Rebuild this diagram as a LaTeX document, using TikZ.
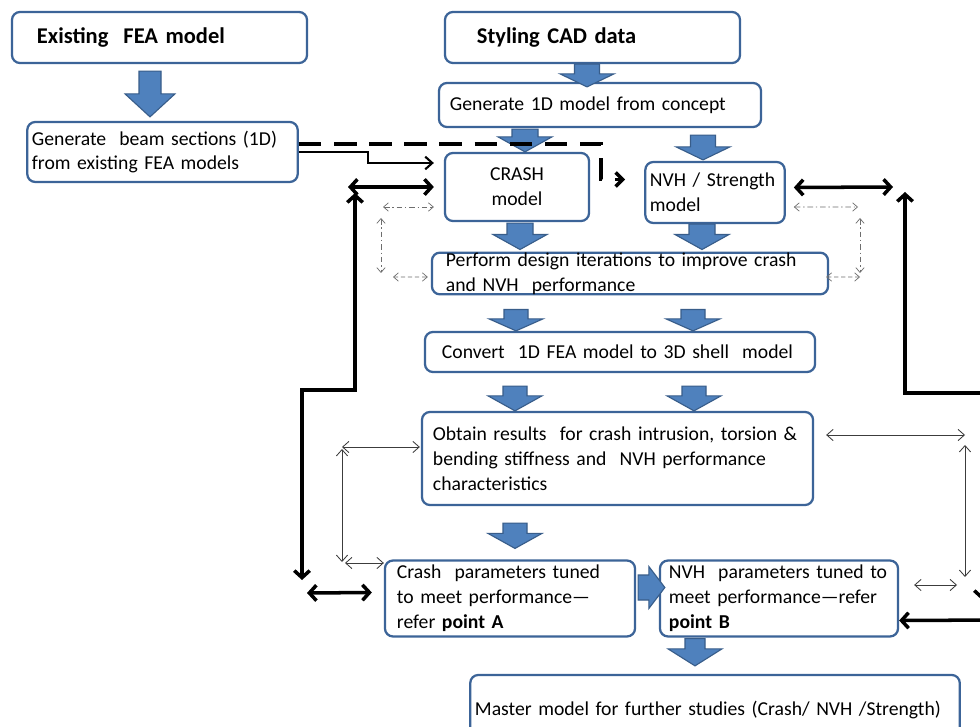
\documentclass[tikz,border=0pt]{standalone}
\usepackage{fontspec}
\setmainfont{Carlito}
\usepackage{tikz}
\usetikzlibrary{arrows.meta, calc, positioning}
\definecolor{BoxLine}{RGB}{60,100,152}
\definecolor{BlkFill}{RGB}{79,129,189}
\definecolor{BlkLine}{RGB}{56,93,138}
\definecolor{LinkGray}{RGB}{60,60,60}
\definecolor{DotGray}{RGB}{110,110,110}

% fat block arrow pointing down: x, from, to, top offset, tip offset, head length, half shaft, half head
\newcommand{\blkdown}[8]{%
	\path (#2.south -| #1,0) ++(0,#4) coordinate (bt)
	      (#3.north -| #1,0) ++(0,#5) coordinate (bb);
	\draw[blkarr] ($(bt)+(-#7,0)$) -- ($(bt)+(#7,0)$) -- ($(bb)+(#7,-#6)$)
		-- ($(bb)+(#8,-#6)$) -- (bb) -- ($(bb)+(-#8,-#6)$) -- ($(bb)+(-#7,-#6)$) -- cycle;}
% fat block arrow pointing right: y, from, to, left offset, tip offset, head length, half shaft, half head
\newcommand{\blkright}[8]{%
	\path (#2.east |- 0,#1) ++(#4,0) coordinate (bt)
	      (#3.west |- 0,#1) ++(#5,0) coordinate (bb);
	\draw[blkarr] ($(bt)+(0,-#7)$) -- ($(bb)+(-#6,-#7)$) -- ($(bb)+(-#6,-#8)$)
		-- (bb) -- ($(bb)+(-#6,#8)$) -- ($(bb)+(-#6,#7)$) -- ($(bt)+(0,#7)$) -- cycle;}

\begin{document}
\begin{tikzpicture}[x=0.025cm, y=-0.025cm, font=\fontsize{14}{17.7}\selectfont,
	box/.style={draw=BoxLine, line width=1.6pt, rounded corners=0.2cm, fill=white, align=left},
	title/.style={box, font=\fontsize{16}{19}\selectfont\bfseries},
	blkarr/.style={fill=BlkFill, draw=BlkLine, line width=0.8pt, line join=miter},
	heavy/.style={line width=2.5pt, {Straight Barb[length=5pt,width=11pt]}-{Straight Barb[length=5pt,width=11pt]}},
	feed/.style={line width=1.5pt, -{Straight Barb[length=5pt,width=9pt]}},
	dashfeed/.style={line width=2.6pt, dash pattern=on 16pt off 9pt, -{Straight Barb[length=5pt,width=10pt]}},
	thinlink/.style={line width=0.6pt, LinkGray, {Straight Barb[length=4.5pt,width=8pt]}-{Straight Barb[length=4.5pt,width=8pt]}},
	dotlink/.style={line width=0.5pt, DotGray, dash pattern=on 4pt off 2pt on 1pt off 2pt,
		{Straight Barb[length=3.5pt,width=6pt]}-{Straight Barb[length=3.5pt,width=6pt]}},
	dashlink/.style={dotlink, dash pattern=on 3pt off 2pt}]
	\path[use as bounding box, fill=white] (0,0) rectangle (980,727);

	% boxes
	\node[title, minimum width=7.375cm, minimum height=1.275cm, text width=6.125cm] (existing) at (159.5,37.5) {Existing~~FEA model};
	\node[title, minimum width=7.375cm, minimum height=1.275cm, text width=5.775cm] (styling) at (592.5,37.5) {Styling CAD data};
	\node[box, minimum width=8.05cm, minimum height=1.1cm, text width=7.5cm] (concept) at (600,105) {Generate 1D model from concept};
	\node[box, minimum width=6.725cm, minimum height=1.5cm, text width=6.525cm] (beam) at (162.5,152)
		{Generate~~beam sections (1D)\\from existing FEA models};
	\node[box, minimum width=3.6cm, minimum height=1.7cm, text width=3.2cm, align=center] (crash) at (517,187) {CRASH\\model};
	\node[box, minimum width=3.4cm, minimum height=1.525cm, text width=3.25cm] (nvh) at (715,192.5) {NVH / Strength\\model};
	\node[box, minimum width=9.9cm, minimum height=1.025cm, text width=9.2cm, inner ysep=0pt] (perf) at (630,273.5)
		{Perform design iterations to improve crash\\and NVH~~performance};
	\node[box, minimum width=9.75cm, minimum height=1cm, text width=8.9cm] (convert) at (620,352)
		{Convert~~1D FEA model to 3D shell~~model};
	\node[box, minimum width=9.775cm, minimum height=2.325cm, text width=9.225cm] (obtain) at (617.5,458.5)
		{Obtain results~~for crash intrusion, torsion \&\\bending stiffness and~~NVH performance\\characteristics};
	\node[box, minimum width=6.25cm, minimum height=1.875cm, text width=5.65cm] (crashpar) at (510,598.5)
		{Crash~~parameters tuned\\to meet performance—\\refer \textbf{point A}};
	\node[box, minimum width=5.95cm, minimum height=1.875cm, text width=5.5cm] (nvhpar) at (779,598.5)
		{NVH~~parameters tuned to\\meet performance—refer\\\textbf{point B}};
	\node[box, minimum width=12.15cm, minimum height=1.75cm, text width=12cm] (master) at (715,710)
		{Master model for further studies (Crash/ NVH /Strength)};

	% block arrows
	\blkdown{150}{existing}{beam}{7}{-4}{23}{11}{25}
	\blkdown{587}{styling}{concept}{0}{5}{13}{12.5}{27}
	\blkdown{525}{concept}{crash}{1}{0}{15}{13}{27}
	\blkdown{703}{concept}{nvh}{7}{-1}{13}{12.5}{27}
	\blkdown{520}{crash}{perf}{1}{-2}{15}{13}{27}
	\blkdown{702}{nvh}{perf}{0}{-2}{15}{13}{27}
	\foreach \x in {516,693}{\blkdown{\x}{perf}{convert}{14}{0}{12}{12}{27}}
	\foreach \x in {515,694}{\blkdown{\x}{convert}{obtain}{13}{0}{15}{12}{27}}
	\blkdown{515}{obtain}{crashpar}{17}{-11}{15}{12}{27}
	\blkdown{695}{nvhpar}{master}{1}{-8}{17}{10}{27}
	\blkright{587.5}{crashpar}{nvhpar}{2}{6}{16}{12.5}{21}

	% free ends of the links
	\foreach \n/\px/\py in {lhA/348/187, lvTop/355/193, lvBot/302/580, lhB/307/593,
		rhA/893/187, rvTop/905/192, rvBot/982/600, rhB/1000/620,
		ltA/342/447, ltB/342/449, ltBb/342/562, ltC/345/563,
		rtA/965/435, rtB/965/445, rtBb/965/577, rtC/957/585,
		ldA/383/207, ldB/381/218, ldBb/381/273, ldC/393/277,
		rdA/858/207, rdB/860/218, rdBb/860/273, rdC/860/277}
		{\coordinate (\n) at (\px,\py);}

	% links from the beam sections
	\draw[feed] (beam.east) -- ++(69,0) |- ($(crash.west)+(-10,-24)$);
	\draw[dashfeed] ($(beam.east)+(0,-8)$) -| ($(nvh.west)+(-43,-13)$) -- ($(nvh.west)+(-19,-13)$);

	% heavy loops
	\draw[heavy] (lhA) -- ($(crash.west)+(-10,0)$);
	\draw[heavy] (lvTop) -- ++(0,197) -| (lvBot);
	\draw[heavy] (lhB) -- ($(crashpar.west)+(-12,-6)$);
	\draw[heavy] ($(nvh.east)+(8,-5)$) -- (rhA);
	\draw[heavy] (rvTop) -- ++(0,201) -| (rvBot);
	\draw[heavy] ($(nvhpar.east)+(0,22)$) -- (rhB);

	% thin links
	\draw[thinlink] (ltA) -- ($(obtain.west)+(-1,-11.5)$);
	\draw[thinlink] (ltB) -- (ltBb);
	\draw[thinlink] (ltC) -- ($(crashpar.west)+(0,-35.5)$);
	\draw[thinlink] ($(obtain.east)+(12,-23.5)$) -- (rtA);
	\draw[thinlink] (rtB) -- (rtBb);
	\draw[thinlink] ($(nvhpar.east)+(15,-13.5)$) -- (rtC);

	% dash-dot links
	\draw[dotlink] (ldA) -- ($(crash.west)+(-10,20)$);
	\draw[dotlink] (ldB) -- (ldBb);
	\draw[dashlink] (ldC) -- ($(perf.west)+(-3,3.5)$);
	\draw[dotlink] ($(nvh.east)+(8,14.5)$) -- (rdA);
	\draw[dotlink] (rdB) -- (rdBb);
	\draw[dashlink] ($(perf.east)+(-3,3.5)$) -- (rdC);
\end{tikzpicture}
\end{document}
